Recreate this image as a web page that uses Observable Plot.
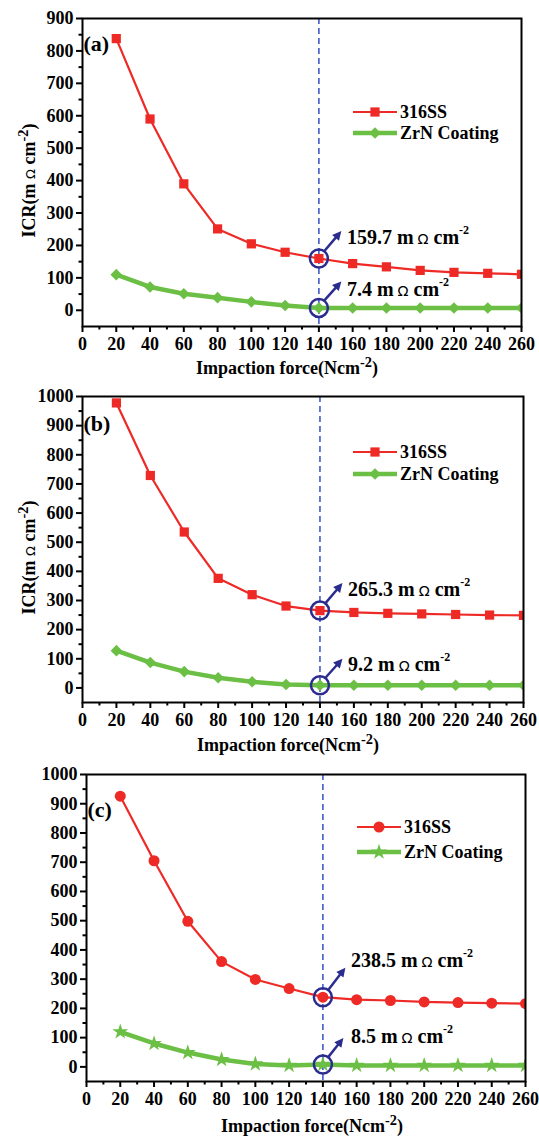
<!DOCTYPE html>
<html>
<head>
<meta charset="utf-8">
<script src="https://cdn.jsdelivr.net/npm/d3@7"></script>
<script src="https://cdn.jsdelivr.net/npm/@observablehq/plot@0.6"></script>
<style>
  html, body { margin: 0; padding: 0; background: #fff; overflow: hidden; }
  #wrap { position: relative; width: 539px; height: 1136px; overflow: hidden; background: #fff; }
  #wrap svg { position: absolute; left: 0; }
  #wrap svg text { font-weight: bold; }
</style>
</head>
<body>
<div id="wrap"></div>
<script>
// ---------------- data ----------------
const force = [20, 40, 60, 80, 100, 120, 140, 160, 180, 200, 220, 240, 260];

const ssA  = [838, 590, 390, 251, 205, 179, 159.7, 144, 134, 123, 117, 114, 111];
const zrnA = [110, 72, 51, 39, 26, 15, 7.4, 7, 7, 7, 7, 7, 7];

const ssB  = [978, 729, 535, 376, 320, 281, 265.3, 259, 256, 254, 252, 250, 249];
const zrnB = [128, 87, 56, 35, 21, 12, 9.2, 9, 9, 9, 9, 9, 9];

const ssC  = [926, 705, 498, 360, 299, 268, 238.5, 230, 227, 222, 220, 218, 216];
const zrnC = [120, 80, 49, 25, 10, 5, 8.5, 5, 5, 5, 5, 5, 5];

const seriesNames = ["316SS", "ZrN Coating"];
const panelLabels = ["(a)", "(b)", "(c)"];
const markedForce = 140;
const annotA = [159.7, 7.4];
const annotB = [265.3, 9.2];
const annotC = [238.5, 8.5];

const xMajor = [0, 20, 40, 60, 80, 100, 120, 140, 160, 180, 200, 220, 240, 260];
const xMinor = [10, 30, 50, 70, 90, 110, 130, 150, 170, 190, 210, 230, 250];
const yMajorA = [0, 100, 200, 300, 400, 500, 600, 700, 800, 900];
const yMinorA = [50, 150, 250, 350, 450, 550, 650, 750, 850];
const yMajorBC = [0, 100, 200, 300, 400, 500, 600, 700, 800, 900, 1000];
const yMinorBC = [50, 150, 250, 350, 450, 550, 650, 750, 850, 950];

const xLabel = "Impaction force(Ncm`-2)";
const yLabel = "ICR(m Ω cm`-2)";

// ---------------- styles ----------------
const FONT = "'Liberation Serif', 'Times New Roman', serif";
const RED = "#ee2a26";
const GREEN = "#6cbf45";
const NAVY = "#2b2d8e";
const DASH = "#3f5cc9";

const diamondSym = d3.symbolDiamond2 || {
  draw(ctx, size) {
    const r = Math.sqrt(size) * 0.62625;
    ctx.moveTo(0, -r); ctx.lineTo(r, 0); ctx.lineTo(0, r); ctx.lineTo(-r, 0); ctx.closePath();
  }
};

function legendMark(rows, offX, offY) {
  return (index, scales, values, dims) => {
    const g = d3.create("svg:g");
    const x0 = dims.marginLeft + offX;
    rows.forEach((row, i) => {
      const y = dims.marginTop + offY[i];
      g.append("line").attr("x1", x0).attr("x2", x0 + 44).attr("y1", y).attr("y2", y)
        .attr("stroke", row.color).attr("stroke-width", row.width);
      g.append("path").attr("d", d3.symbol(row.sym, Math.PI * row.r * row.r)())
        .attr("transform", `translate(${x0 + 22},${y})`).attr("fill", row.color);
      g.append("text").attr("x", x0 + 47).attr("y", y).attr("dy", "0.35em")
        .attr("text-anchor", "start").attr("font-size", 18).attr("font-weight", "bold")
        .attr("fill", "black").text(row.name);
    });
    return g.node();
  };
}

function arrowMark(vals, tips) {
  return (index, scales) => {
    const g = d3.create("svg:g");
    vals.forEach((v, i) => {
      const cx = scales.x(markedForce), cy = scales.y(v);
      const sx = cx + 6, sy = cy - 7;
      const tx = cx + tips[i][0], ty = cy + tips[i][1];
      const L = Math.hypot(tx - sx, ty - sy);
      const ux = (tx - sx) / L, uy = (ty - sy) / L;
      const px = -uy, py = ux;
      const hl = 9, hw = 4.5;
      g.append("line").attr("x1", sx).attr("y1", sy)
        .attr("x2", tx - ux * (hl - 1)).attr("y2", ty - uy * (hl - 1))
        .attr("stroke", NAVY).attr("stroke-width", 2.5);
      const bx = tx - ux * hl, by = ty - uy * hl;
      g.append("path")
        .attr("d", `M${tx},${ty}L${bx + px * hw},${by + py * hw}L${bx - px * hw},${by - py * hw}Z`)
        .attr("fill", NAVY);
    });
    return g.node();
  };
}

function richify(svg) {
  d3.select(svg).selectAll("text").each(function () {
    const t = this.textContent;
    if (!/[\^`Ω]/.test(t)) return;
    const fs = parseFloat(getComputedStyle(this).fontSize) || 18;
    const parts = t.split(/([\^`]-?\d+|Ω)/).filter(s => s !== "");
    this.textContent = "";
    let shift = 0;
    for (const p of parts) {
      const ts = d3.select(this).append("tspan");
      if (p[0] === "^" || p[0] === "`") {
        const ratio = p[0] === "^" ? 0.6 : 0.8;
        const up = p[0] === "^" ? fs * 0.5 : fs * 0.42;
        ts.text(p.slice(1)).attr("font-size", fs * ratio).attr("dy", -up);
        shift = up;
      } else {
        ts.text(p);
        if (p === "Ω") ts.attr("font-size", fs * 0.72).style("font-weight", "normal").attr("font-family", "'DejaVu Sans', sans-serif");
        if (shift) { ts.attr("dy", shift); shift = 0; }
      }
    }
  });
}

const panels = [
  { top: 0, height: 375, ml: 82, mr: 18, mt: 18, mb: 49, yMax: 900, yMajor: yMajorA, yMinor: yMinorA,
    ss: ssA, zrn: zrnA, ssSym: d3.symbolSquare, ssR: 5.2, zrnSym: diamondSym, zrnR: 5.2,
    label: panelLabels[0], labelDy: 25, yLab: true, annot: annotA, annotDy: [-21, -18],
    tips: [[23, -27], [23, -26]], legendDy: [94, 115], xLabDx: -15, xLabDy: 42 },
  { top: 375, height: 375, ml: 82, mr: 16, mt: 21, mb: 48, yMax: 1000, yMajor: yMajorBC, yMinor: yMinorBC,
    ss: ssB, zrn: zrnB, ssSym: d3.symbolSquare, ssR: 5.2, zrnSym: diamondSym, zrnR: 5.2,
    label: panelLabels[1], labelDy: 27, yLab: true, annot: annotB, annotDy: [-21, -21],
    tips: [[23, -27], [23, -26]], legendDy: [56, 78], xLabDx: -15, xLabDy: 43 },
  { top: 750, height: 386, ml: 86, mr: 14, mt: 24, mb: 55, yMax: 1000, yMajor: yMajorBC, yMinor: yMinorBC,
    ss: ssC, zrn: zrnC, ssSym: d3.symbolCircle, ssR: 5.5, zrnSym: d3.symbolStar, zrnR: 5,
    label: panelLabels[2], labelDy: 35, yLab: false, annot: annotC, annotDy: [-37, -28],
    tips: [[23, -29], [21, -26]], legendDy: [53, 78], xLabDx: 6, xLabDy: 45 }
];

const wrap = document.getElementById("wrap");

panels.forEach(p => {
  const ssData = force.map((f, i) => ({ x: f, y: p.ss[i] }));
  const zrnData = force.map((f, i) => ({ x: f, y: p.zrn[i] }));
  const annData = p.annot.map(v => ({ x: markedForce, y: v }));

  const marks = [
    Plot.ruleX([markedForce], { stroke: DASH, strokeWidth: 1.6, strokeDasharray: "6,4" }),
    Plot.line(ssData, { x: "x", y: "y", stroke: RED, strokeWidth: 2.2, clip: true }),
    Plot.dot(ssData, { x: "x", y: "y", symbol: p.ssSym, r: p.ssR, fill: RED, stroke: null, clip: true }),
    Plot.line(zrnData, { x: "x", y: "y", stroke: GREEN, strokeWidth: 4.5, clip: true }),
    Plot.dot(zrnData, { x: "x", y: "y", symbol: p.zrnSym, r: p.zrnR, fill: GREEN, stroke: null, clip: true }),
    Plot.dot(annData, { x: "x", y: "y", r: 9, fill: "none", stroke: NAVY, strokeWidth: 2.5 }),
    arrowMark(p.annot, p.tips),
    ...annData.map((d, i) => Plot.text([d], {
      x: "x", y: "y", text: () => `${d.y} m\u2009Ω cm^-2`, dx: 28, dy: p.annotDy[i],
      textAnchor: "start", lineAnchor: "middle", fontSize: 20, fontWeight: "bold", fill: "black"
    })),
    Plot.axisX(xMajor, { anchor: "bottom", tickSize: 6, tickPadding: 5, strokeWidth: 2, fontSize: 18,
      fontWeight: "bold", tickFormat: d => String(d), label: null }),
    Plot.axisX(xMinor, { anchor: "bottom", tickSize: 3.5, strokeWidth: 2, tickFormat: () => "", label: null }),
    Plot.axisY(p.yMajor, { anchor: "left", tickSize: 6, tickPadding: 3, strokeWidth: 2, fontSize: 18,
      fontWeight: "bold", tickFormat: d => String(d), label: null }),
    Plot.axisY(p.yMinor, { anchor: "left", tickSize: 3.5, strokeWidth: 2, tickFormat: () => "", label: null }),
    Plot.frame({ stroke: "black", strokeWidth: 2 }),
    Plot.text([p.label], { frameAnchor: "top-left", dx: 1, dy: p.labelDy, textAnchor: "start",
      lineAnchor: "middle", fontSize: 22, fontWeight: "bold", fill: "black" }),
    Plot.text([xLabel], { frameAnchor: "bottom", dx: p.xLabDx, dy: p.xLabDy, lineAnchor: "middle",
      fontSize: 18, fontWeight: "bold", fill: "black" }),
    legendMark([
      { name: seriesNames[0], color: RED, width: 2.2, sym: p.ssSym, r: p.ssR },
      { name: seriesNames[1], color: GREEN, width: 4.5, sym: p.zrnSym, r: p.zrnR }
    ], 271, p.legendDy)
  ];
  if (p.yLab) {
    marks.push(Plot.text([yLabel], { frameAnchor: "left", rotate: -90, dx: -53, dy: 8,
      lineAnchor: "middle", textAnchor: "middle", fontSize: 18, fontWeight: "bold", fill: "black" }));
  }

  const svg = Plot.plot({
    width: 539, height: p.height,
    marginLeft: p.ml, marginRight: p.mr, marginTop: p.mt, marginBottom: p.mb,
    x: { domain: [0, 260], axis: null },
    y: { domain: [-50, p.yMax], axis: null },
    style: { fontFamily: FONT, fontWeight: "bold", fontSize: "17px", color: "black",
      background: "transparent", overflow: "visible" },
    marks
  });
  svg.style.top = p.top + "px";
  wrap.appendChild(svg);
  richify(svg);
});
</script>
</body>
</html>
